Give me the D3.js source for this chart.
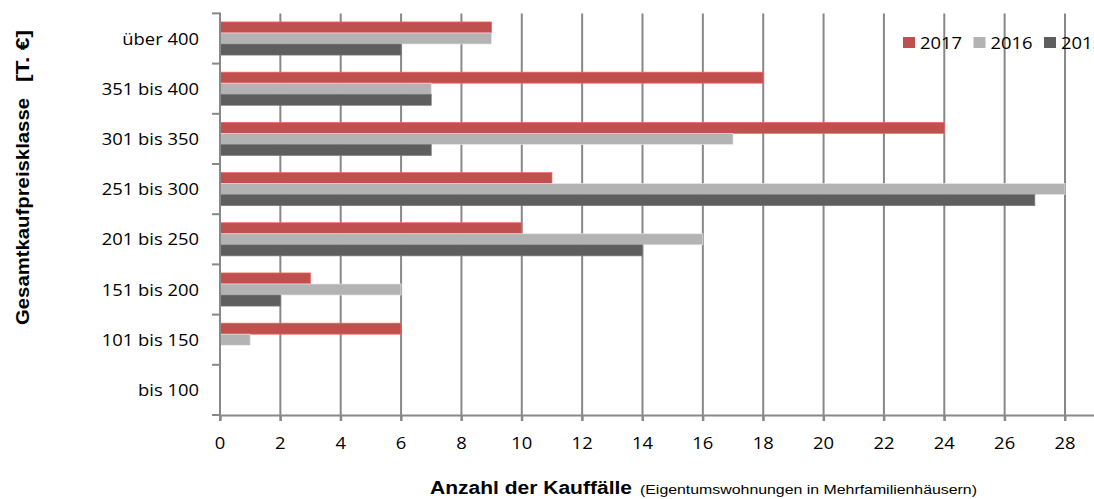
<!DOCTYPE html>
<html>
<head>
<meta charset="utf-8">
<script src="https://cdn.jsdelivr.net/npm/d3@7"></script>
<style>
  html, body { margin: 0; padding: 0; background: #fff; }
  svg { display: block; }
  .lbl { font-family: "Open Sans", sans-serif; font-size: 16px; fill: #000; }
  .title { font-family: "Liberation Sans", Arial, sans-serif; fill: #000; }
</style>
</head>
<body>
<svg id="chart" width="1094" height="499"></svg>
<script>
// Price classes (top to bottom) and purchase counts per year
const categories = ["über 400", "351 bis 400", "301 bis 350", "251 bis 300",
                    "201 bis 250", "151 bis 200", "101 bis 150", "bis 100"];
const years = ["2017", "2016", "2015"];
const values2017 = [9, 18, 24, 11, 10, 3, 6, 0];
const values2016 = [9, 7, 17, 28, 16, 6, 1, 0];
const values2015 = [6, 7, 7, 27, 14, 2, 0, 0];
const xTickValues = [0, 2, 4, 6, 8, 10, 12, 14, 16, 18, 20, 22, 24, 26, 28];
const colors = ["#C0504D", "#B3B3B3", "#5E5E5E"];

const seriesValues = [values2017, values2016, values2015];
const rows = categories.map((c, i) => ({
  cat: c,
  vals: years.map((y, k) => ({ year: y, value: seriesValues[k][i], color: colors[k] }))
}));

const svg = d3.select("#chart");
const SX = 1.15; // horizontal text stretch

const plotLeft = 220, plotTop = 13.4, plotBottom = 415;
const x = d3.scaleLinear().domain([0, 30]).range([plotLeft, plotLeft + 30 * (845 / 28)]);
const y = d3.scaleBand().domain(categories).range([plotTop, plotBottom])
  .paddingInner(0.34).paddingOuter(0.17);
const yInner = d3.scaleBand().domain(years).range([0, y.bandwidth()]);
const boundary = d3.scaleLinear().domain([0, categories.length]).range([plotTop, plotBottom]);

const gridColor = "#888888";

// vertical gridlines (including tick stub below the axis)
svg.append("g").selectAll("line")
  .data(xTickValues.filter(v => v > 0))
  .join("line")
  .attr("x1", d => x(d)).attr("x2", d => x(d))
  .attr("y1", plotTop).attr("y2", plotBottom + 6)
  .attr("stroke", gridColor).attr("stroke-width", 2);

// bars
const groups = svg.append("g").selectAll("g")
  .data(rows).join("g")
  .attr("transform", d => `translate(0,${y(d.cat)})`);
groups.selectAll("rect")
  .data(d => d.vals.filter(v => v.value > 0))
  .join("rect")
  .attr("x", x(0))
  .attr("y", d => yInner(d.year))
  .attr("width", d => x(d.value) - x(0))
  .attr("height", yInner.bandwidth())
  .attr("fill", d => d.color)
  .attr("stroke", d => d3.color(d.color).brighter(0.7))
  .attr("stroke-width", 0.7);

// x axis
const xAxis = d3.axisBottom(x).tickValues(xTickValues).tickSize(6).tickFormat("");
const gx = svg.append("g").attr("transform", `translate(0,${plotBottom})`).call(xAxis);
gx.select(".domain").attr("stroke", gridColor).attr("stroke-width", 2);
gx.selectAll(".tick line").attr("stroke", gridColor).attr("stroke-width", 2);

svg.append("g").selectAll("text")
  .data(xTickValues).join("text")
  .attr("class", "lbl")
  .attr("text-anchor", "middle")
  .attr("transform", d => `translate(${x(d)},${plotBottom + 34}) scale(${SX},1)`)
  .text(d => d);

// y axis with ticks at class boundaries
svg.append("line")
  .attr("x1", plotLeft).attr("x2", plotLeft)
  .attr("y1", plotTop - 1).attr("y2", plotBottom + 6)
  .attr("stroke", gridColor).attr("stroke-width", 2);
svg.append("g").selectAll("line")
  .data(d3.range(categories.length + 1)).join("line")
  .attr("x1", plotLeft - 8).attr("x2", plotLeft)
  .attr("y1", d => boundary(d)).attr("y2", d => boundary(d))
  .attr("stroke", gridColor).attr("stroke-width", 2);

svg.append("g").selectAll("text")
  .data(categories).join("text")
  .attr("class", "lbl")
  .attr("text-anchor", "end")
  .attr("transform", d => `translate(199,${y(d) + y.bandwidth() / 2 + 6}) scale(${SX},1)`)
  .text(d => d);

// legend
const legend = svg.append("g").selectAll("g")
  .data(years).join("g")
  .attr("transform", (d, i) => `translate(${903 + i * 70.5},37)`);
legend.append("rect")
  .attr("width", 12).attr("height", 11)
  .attr("fill", (d, i) => colors[i]);
legend.append("text")
  .attr("class", "lbl")
  .attr("transform", `translate(17,11.5) scale(${SX},1)`)
  .text(d => d);

// axis titles
svg.append("text").attr("class", "title")
  .attr("transform", "translate(430,494)")
  .attr("font-weight", "bold").attr("font-size", 18)
  .attr("textLength", 202).attr("lengthAdjust", "spacingAndGlyphs")
  .text("Anzahl der Kauffälle");
svg.append("text").attr("class", "title")
  .attr("transform", "translate(640,494)")
  .attr("font-size", 13.5)
  .attr("textLength", 337).attr("lengthAdjust", "spacingAndGlyphs")
  .text("(Eigentumswohnungen in Mehrfamilienhäusern)");

svg.append("text").attr("class", "title")
  .attr("font-weight", "bold").attr("font-size", 18)
  .attr("text-anchor", "middle")
  .attr("transform", "translate(29,211.5) rotate(-90)")
  .attr("textLength", 227).attr("lengthAdjust", "spacingAndGlyphs")
  .text("Gesamtkaufpreisklasse");
svg.append("text").attr("class", "title")
  .attr("font-weight", "bold").attr("font-size", 18)
  .attr("text-anchor", "middle")
  .attr("transform", "translate(29,56) rotate(-90)")
  .attr("textLength", 52).attr("lengthAdjust", "spacingAndGlyphs")
  .text("[T. €]");
</script>
</body>
</html>
